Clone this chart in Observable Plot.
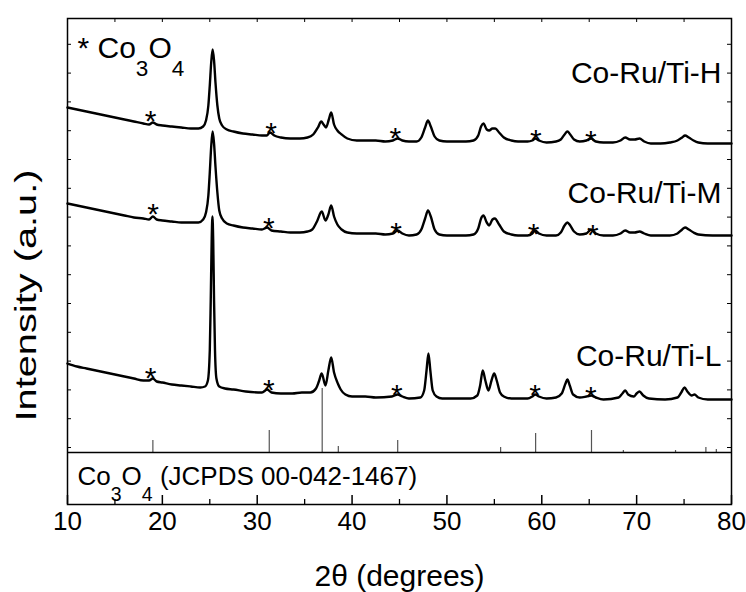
<!DOCTYPE html>
<html><head><meta charset="utf-8">
<script src="https://cdn.jsdelivr.net/npm/d3@7"></script>
<script src="https://cdn.jsdelivr.net/npm/@observablehq/plot@0.6"></script>
<style>
html,body{margin:0;padding:0;background:#fff;}
#chart svg{display:block;}
</style></head><body><div id="chart"></div>
<script>
// ---- data (2θ in degrees, intensity in arbitrary units) ----
const seriesNames = ["Co-Ru/Ti-H", "Co-Ru/Ti-M", "Co-Ru/Ti-L"];

const traceH = [[10,345],[11,343],[12,341],[13,339],[14,337],[15,335],[16,333],[17,331],[18,329],[18.6,328],[19.0,330],[19.4,328],[20,327],[21,326],[22,325],[23,324],[23.8,324],[24.3,326],[24.6,332],[24.85,347],[25.0,367],[25.15,390],[25.3,403],[25.45,392],[25.6,370],[25.8,347],[26.0,334],[26.3,327],[26.8,323],[27.5,321],[28.5,319],[29.5,318],[30.5,317],[31.0,317],[31.35,320],[31.8,317],[32.5,315],[33.5,314],[34.5,314],[35.3,315],[35.9,318],[36.4,325],[36.75,331],[37.0,328],[37.25,325],[37.55,333],[37.8,340],[38.1,328],[38.45,322],[38.9,318],[39.5,314],[40.5,312],[41.5,312],[42.5,312],[43.5,311],[44.3,312],[44.8,314],[45.3,312],[46,311],[46.8,311],[47.3,315],[47.7,325],[48.0,332],[48.3,326],[48.7,316],[49.2,312],[50,311],[51,311],[52,311],[52.8,312],[53.3,317],[53.6,326],[53.85,329],[54.2,323],[54.45,322],[54.8,324],[55.1,324],[55.5,320],[56.0,315],[56.8,312],[57.5,311],[58.5,311],[59.0,312],[59.3,314],[59.7,312],[60.5,310],[61.5,311],[62.0,313],[62.4,318],[62.7,321],[63.0,318],[63.4,313],[64,311],[64.7,312],[65.2,314],[65.7,311],[66.5,310],[67.5,310],[68.3,312],[68.8,315],[69.3,313],[69.8,313],[70.3,314],[70.8,311],[71.5,309],[72.5,309],[73.5,310],[74.3,312],[74.8,315],[75.1,317],[75.5,315],[76.0,312],[76.5,310],[77.5,309],[78.5,309],[80,309]];

const traceM = [[10,249],[11,247],[12,245],[13,243],[14,241],[15,239],[16,237],[17,235],[18,234],[18.6,233],[19.0,236],[19.4,233],[20,232],[21,231],[22,230],[23,230],[23.8,230],[24.3,233],[24.6,240],[24.85,257],[25.0,280],[25.15,306],[25.3,321],[25.45,309],[25.6,286],[25.8,260],[26.0,242],[26.3,234],[26.8,229],[27.5,227],[28.5,225],[29.5,224],[30.5,223],[31.05,225],[31.5,222],[32.5,221],[33.5,220],[34.5,220],[35.3,221],[35.8,223],[36.3,231],[36.8,241],[37.2,232],[37.5,238],[37.8,247],[38.1,236],[38.45,228],[38.9,223],[39.5,220],[40.5,219],[41.5,219],[42.5,219],[43.5,218],[44.3,219],[44.8,222],[45.3,219],[46.0,217],[46.8,218],[47.3,223],[47.7,234],[48.0,242],[48.3,236],[48.7,223],[49.2,218],[50,217],[51,217],[52,217],[52.8,218],[53.3,224],[53.6,234],[53.85,237],[54.2,230],[54.45,227],[54.8,233],[55.05,234],[55.5,228],[56.0,221],[56.8,218],[57.5,217],[58.5,217],[59.0,219],[59.3,222],[59.7,219],[60.5,217],[61.5,217],[62.0,220],[62.4,227],[62.7,230],[63.0,227],[63.4,221],[64,218],[64.7,219],[65.2,223],[65.7,219],[66.5,217],[67.5,217],[68.3,219],[68.8,222],[69.3,220],[69.8,220],[70.3,221],[70.8,219],[71.5,217],[72.5,217],[73.5,217],[74.3,219],[74.8,223],[75.1,225],[75.5,223],[76.0,220],[76.5,218],[78,217],[80,217]];

const traceL = [[10,89],[11,86],[12,84],[13,82],[14,80],[15,78],[16,76],[17,74],[18,72],[18.6,72],[19.0,74],[19.4,71],[20,70],[21,68],[22,67],[23,66],[24.0,65],[24.5,66],[24.8,72],[25.0,102],[25.1,152],[25.2,212],[25.28,236],[25.36,212],[25.45,152],[25.55,102],[25.7,74],[26.0,66],[26.6,64],[27.5,63],[28.8,61],[30.5,60],[31.05,63],[31.5,60],[32.5,59],[33.7,59],[34.7,60],[35.6,60],[36.2,64],[36.5,71],[36.8,79],[37.2,67],[37.5,82],[37.8,95],[38.1,80],[38.5,69],[38.8,63],[39.3,58],[40,56],[41.4,56],[42.5,55],[44.2,56],[44.8,58],[45.3,56],[46,54],[47.2,55],[47.6,62],[47.85,82],[48.05,99],[48.25,82],[48.5,62],[48.9,56],[49.5,54],[51,54],[52.5,54],[53.2,57],[53.5,67],[53.78,82],[54.05,72],[54.38,62],[54.7,72],[54.98,79],[55.25,72],[55.6,60],[56.0,56],[56.8,54],[58.5,54],[59.0,56],[59.3,58],[59.7,56],[60.5,54],[61.5,55],[62.1,59],[62.5,69],[62.7,73],[62.95,67],[63.3,58],[64,55],[64.7,56],[65.2,57],[65.7,55],[66.5,53],[68.1,55],[68.5,59],[68.8,62],[69.1,58],[69.7,56],[70.0,59],[70.3,61],[70.7,57],[71.3,54],[73,53],[74.3,55],[74.7,60],[75.05,65],[75.35,61],[75.8,57],[76.1,58],[76.5,55],[77.5,53],[80,53]];

// Co3O4 reflections marked with * on each pattern
const starsH = [[18.75,339],[31.47,327],[44.55,322],[59.37,320],[65.17,319]];
const starsM = [[19.03,246],[31.22,232],[44.65,227],[59.13,226],[65.38,225]];
const starsL = [[18.75,82],[31.22,70],[44.71,65],[59.30,65],[65.17,63]];

// reference stick pattern (JCPDS 00-042-1467)
const refPeaks   = [19.0, 31.27, 36.85, 38.55, 44.81, 55.66, 59.35, 65.24, 68.6, 74.1, 77.3, 78.4];
const refHeights = [12, 22, 64, 6, 12, 5, 19, 22, 2, 2, 5, 3];

// ticks
const xMajorTicks = [10, 20, 30, 40, 50, 60, 70, 80];
const xMinorTicks = [15, 25, 35, 45, 55, 65, 75];
const xTopTicks = [15, 20, 25, 30, 35, 40, 45, 50, 55, 60, 65, 70, 75];
const yTicks = [5, 33.8, 62.6, 91.4, 120.2, 149, 177.8, 206.6, 235.4, 264.2, 293, 321.8, 350.6, 379.4, 408.2];

const xLabel = "2θ (degrees)";
const yLabel = "Intensity (a.u.)";
const legendText = "* Co_3O_4";
const refText = "Co_3O_4 (JCPDS 00-042-1467)";

// ---- layout ----
const W = 746, H = 592, mL = 67, mR = 15, mT = 18, mB = 88;
const fw = W - mL - mR, fh = H - mT - mB;
const labelBaseline = [370, 250, 87];
const font = "'Liberation Sans', Arial, Helvetica, sans-serif";

const rows = (arr) => arr.map(([x, y]) => ({x, y}));
const lineOpts = {x: "x", y: "y", stroke: "black", strokeWidth: 2.4, curve: "monotone-x"};
const starOpts = {x: "x", y: "y", text: () => "*", fontSize: 30, lineAnchor: "top", dy: -4, fill: "black"};

const plot = Plot.plot({
  width: W, height: H,
  marginLeft: mL, marginRight: mR, marginTop: mT, marginBottom: mB,
  style: {fontFamily: font, background: "white", color: "black"},
  x: {domain: [10, 80]},
  y: {domain: [-52, 434], axis: null},
  marks: [
    Plot.ruleX(refPeaks, {x: d => d, y1: 0, y2: (d, i) => refHeights[i], stroke: "#555", strokeWidth: 1.2}),
    Plot.line(rows(traceH), lineOpts),
    Plot.line(rows(traceM), lineOpts),
    Plot.line(rows(traceL), lineOpts),
    Plot.text(rows(starsH), starOpts),
    Plot.text(rows(starsM), starOpts),
    Plot.text(rows(starsL), starOpts),
    Plot.ruleY([0], {stroke: "black", strokeWidth: 1.5}),
    Plot.frame({stroke: "black", strokeWidth: 1.5}),
    Plot.tickX(xMajorTicks, {x: d => d, insetTop: fh - 9, stroke: "black", strokeWidth: 1.5}),
    Plot.tickX(xMinorTicks, {x: d => d, insetTop: fh - 5, stroke: "black", strokeWidth: 1.3}),
    Plot.tickX(xTopTicks, {x: d => d, insetBottom: fh - 4, stroke: "black", strokeWidth: 1}),
    Plot.tickY(yTicks, {y: d => d, insetRight: fw - 4, stroke: "black", strokeWidth: 1}),
    Plot.tickY(yTicks, {y: d => d, insetLeft: fw - 4, stroke: "black", strokeWidth: 1}),
    Plot.axisX(xMajorTicks, {tickSize: 0, tickPadding: 7, fontSize: 26, label: null}),
    Plot.text(seriesNames, {frameAnchor: "right", y: (d, i) => labelBaseline[i], dx: -10, textAnchor: "end", lineAnchor: "bottom", fontSize: 30, fill: "black"}),
    Plot.text([legendText], {frameAnchor: "top-left", dx: 10, dy: 39, textAnchor: "start", lineAnchor: "bottom", fontSize: 30, fill: "black"}),
    Plot.text([refText], {frameAnchor: "bottom-left", dx: 10, dy: -20, textAnchor: "start", lineAnchor: "bottom", fontSize: 26, fill: "black"}),
    Plot.text([xLabel], {frameAnchor: "bottom", dy: 81, lineAnchor: "bottom", fontSize: 30, fill: "black"}),
    Plot.text([yLabel], {frameAnchor: "left", rotate: -90, dx: -32, dy: 160, textAnchor: "start", lineAnchor: "bottom", fontSize: 30, fill: "black"})
  ]
});

document.getElementById("chart").appendChild(plot);

// subscripts: "_d" -> lowered, smaller digit; stretch the y label to the reference length
d3.select(plot).selectAll("text").each(function () {
  const t = this.textContent;
  if (t === yLabel) {
    this.setAttribute("textLength", 252);
    this.setAttribute("lengthAdjust", "spacingAndGlyphs");
    return;
  }
  if (!t.includes("_")) return;
  const fs = parseFloat(getComputedStyle(this).fontSize) || 26;
  const parts = t.split(/_(\d)/);
  const sel = d3.select(this);
  sel.text(null);
  const shift = 0.62 * fs;
  parts.forEach((p, i) => {
    if (p === "") return;
    if (i % 2 === 1) {
      sel.append("tspan").attr("font-size", (0.75 * fs) + "px").attr("dy", shift).text(p);
    } else {
      const ts = sel.append("tspan").text(p);
      if (i > 0) ts.attr("dy", -shift);
    }
  });
});
</script>
</body></html>
